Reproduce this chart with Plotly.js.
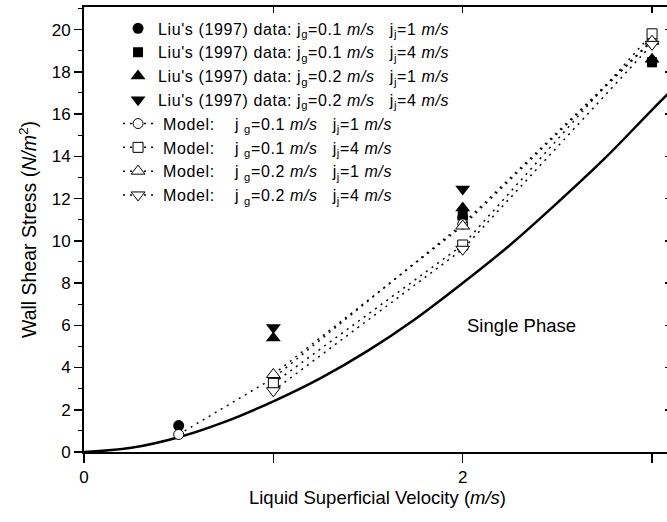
<!DOCTYPE html>
<html>
<head>
<meta charset="utf-8">
<script src="https://cdn.plot.ly/plotly-3.0.1.min.js"></script>
<style>
  html, body { margin: 0; padding: 0; overflow: hidden; background: #fff; }
  #chart { width: 671px; height: 522px; }
  .legendtext { letter-spacing: 0.6px; }
</style>
</head>
<body>
<div id="chart"></div>
<script>
// ---- Data ----
const liuCircleX = [0.5, 2, 3];
const liuCircleY = [1.25, 11.1, 18.5];
const liuSquareX = [2, 3];
const liuSquareY = [11.2, 18.45];
const liuTriUpX = [1, 2, 3];
const liuTriUpY = [5.4, 11.55, 18.6];
const liuTriDownX = [1, 2];
const liuTriDownY = [5.9, 12.45];

const modelCircleX = [0.5, 1, 2, 3];
const modelCircleY = [0.83, 3.5, 10.8, 19.5];
const modelSquareX = [1, 2, 3];
const modelSquareY = [3.25, 9.8, 19.8];
const modelTriUpX = [1, 2, 3];
const modelTriUpY = [3.67, 10.7, 19.45];
const modelTriDownX = [1, 2, 3];
const modelTriDownY = [2.9, 9.6, 19.3];

const singleX = [0, 0.25, 0.5, 0.75, 1, 1.25, 1.5, 1.75, 2, 2.25, 2.5, 2.75, 3, 3.1];
const singleY = [0, 0.2, 0.7, 1.45, 2.4, 3.5, 4.8, 6.3, 8.0, 9.8, 11.8, 13.9, 16.2, 17.1];

const liuNames = [
  "Liu's (1997) data: j<sub>g</sub>=0.1 <i>m/s</i>&nbsp;&nbsp;&nbsp;j<sub>j</sub>=1 <i>m/s</i>",
  "Liu's (1997) data: j<sub>g</sub>=0.1 <i>m/s</i>&nbsp;&nbsp;&nbsp;j<sub>j</sub>=4 <i>m/s</i>",
  "Liu's (1997) data: j<sub>g</sub>=0.2 <i>m/s</i>&nbsp;&nbsp;&nbsp;j<sub>j</sub>=1 <i>m/s</i>",
  "Liu's (1997) data: j<sub>g</sub>=0.2 <i>m/s</i>&nbsp;&nbsp;&nbsp;j<sub>j</sub>=4 <i>m/s</i>"
];
const modelNames = [
  "&nbsp;Model:&nbsp;&nbsp;&nbsp;&nbsp;j&nbsp;<sub>g</sub>=0.1 <i>m/s</i>&nbsp;&nbsp;&nbsp;j<sub>j</sub>=1 <i>m/s</i>",
  "&nbsp;Model:&nbsp;&nbsp;&nbsp;&nbsp;j&nbsp;<sub>g</sub>=0.1 <i>m/s</i>&nbsp;&nbsp;&nbsp;j<sub>j</sub>=4 <i>m/s</i>",
  "&nbsp;Model:&nbsp;&nbsp;&nbsp;&nbsp;j&nbsp;<sub>g</sub>=0.2 <i>m/s</i>&nbsp;&nbsp;&nbsp;j<sub>j</sub>=1 <i>m/s</i>",
  "&nbsp;Model:&nbsp;&nbsp;&nbsp;&nbsp;j&nbsp;<sub>g</sub>=0.2 <i>m/s</i>&nbsp;&nbsp;&nbsp;j<sub>j</sub>=4 <i>m/s</i>"
];

const FONT = 'Arial, "Liberation Sans", sans-serif';
const dotDash = '2px,5px';

function liu(x, y, sym, size, name) {
  return { x: x, y: y, mode: 'markers', type: 'scatter', name: name,
    marker: { symbol: sym, size: size, color: '#000', line: { width: 0 } } };
}
function model(x, y, sym, size, name) {
  return { x: x, y: y, mode: 'lines+markers', type: 'scatter', name: name,
    line: { color: '#000', width: 1.5, dash: dotDash },
    marker: { symbol: sym, size: size, color: '#fff', line: { color: '#000', width: 1 } } };
}

const traces = [
  { x: singleX, y: singleY, mode: 'lines', type: 'scatter', showlegend: false,
    line: { color: '#000', width: 2.5, shape: 'spline' } },
  liu(liuCircleX, liuCircleY, 'circle', 11, liuNames[0]),
  liu(liuSquareX, liuSquareY, 'square', 10, liuNames[1]),
  liu(liuTriUpX, liuTriUpY, 'triangle-up', 13, liuNames[2]),
  liu(liuTriDownX, liuTriDownY, 'triangle-down', 13, liuNames[3]),
  model(modelCircleX, modelCircleY, 'circle', 10, modelNames[0]),
  model(modelSquareX, modelSquareY, 'square', 10, modelNames[1]),
  model(modelTriUpX, modelTriUpY, 'triangle-up', 12, modelNames[2]),
  model(modelTriDownX, modelTriDownY, 'triangle-down', 12, modelNames[3]),
  { x: [], y: [], xaxis: 'x2', yaxis: 'y2', showlegend: false, type: 'scatter', mode: 'markers' }
];

const layout = {
  width: 671, height: 522,
  margin: { l: 84, r: 0, t: 7, b: 70 },
  paper_bgcolor: '#fff', plot_bgcolor: '#fff',
  font: { family: FONT, color: '#000', size: 17 },
  showlegend: true,
  legend: {
    x: 0.058, y: 0.99, xanchor: 'left', yanchor: 'top',
    bgcolor: 'rgba(0,0,0,0)', borderwidth: 0,
    font: { family: FONT, size: 16, color: '#000' },
    tracegroupgap: 0, itemsizing: 'trace'
  },
  xaxis: {
    range: [0, 3.1], showgrid: false, zeroline: false,
    showline: true, linecolor: '#000', linewidth: 2,
    ticks: 'outside', ticklen: 9, tickwidth: 1.5, tickcolor: '#000',
    tick0: 0, dtick: 2,
    minor: { dtick: 1, ticks: 'outside', ticklen: 9, tickwidth: 1.5, tickcolor: '#000', showgrid: false },
    tickfont: { family: FONT, size: 17, color: '#000' },
    title: { text: 'Liquid Superficial Velocity (<i>m/s</i>)', font: { family: FONT, size: 18.5, color: '#000' }, standoff: 4 }
  },
  yaxis: {
    range: [0, 21.07], showgrid: false, zeroline: false,
    showline: true, linecolor: '#000', linewidth: 2,
    ticks: 'outside', ticklen: 8, tickwidth: 1.5, tickcolor: '#000',
    dtick: 2, tick0: 0,
    minor: { dtick: 1, ticks: 'outside', ticklen: 4, tickwidth: 1, tickcolor: '#000', showgrid: false },
    tickfont: { family: FONT, size: 17, color: '#000' },
    title: { text: 'Wall Shear Stress (<i>N/m</i><sup>2</sup>)', font: { family: FONT, size: 19.5, color: '#000' }, standoff: 10 }
  },
  xaxis2: {
    overlaying: 'x', side: 'top', range: [0, 3.1], showgrid: false, zeroline: false,
    showline: true, linecolor: '#000', linewidth: 2,
    ticks: 'inside', ticklen: 6, tickwidth: 1.5, tickcolor: '#000',
    tick0: 0, dtick: 1, showticklabels: false
  },
  yaxis2: {
    overlaying: 'y', side: 'right', range: [0, 21.07], showgrid: false, zeroline: false,
    showline: false, ticks: 'inside', ticklen: 6, tickwidth: 1.5, tickcolor: '#000',
    dtick: 2, tick0: 0, showticklabels: false
  },
  annotations: [{
    x: 2.31, y: 6.0, xref: 'x', yref: 'y', text: 'Single Phase', showarrow: false,
    font: { family: FONT, size: 18.5, color: '#000' }
  }]
};

Plotly.newPlot('chart', traces, layout, { displayModeBar: false, staticPlot: true });
</script>
</body>
</html>
